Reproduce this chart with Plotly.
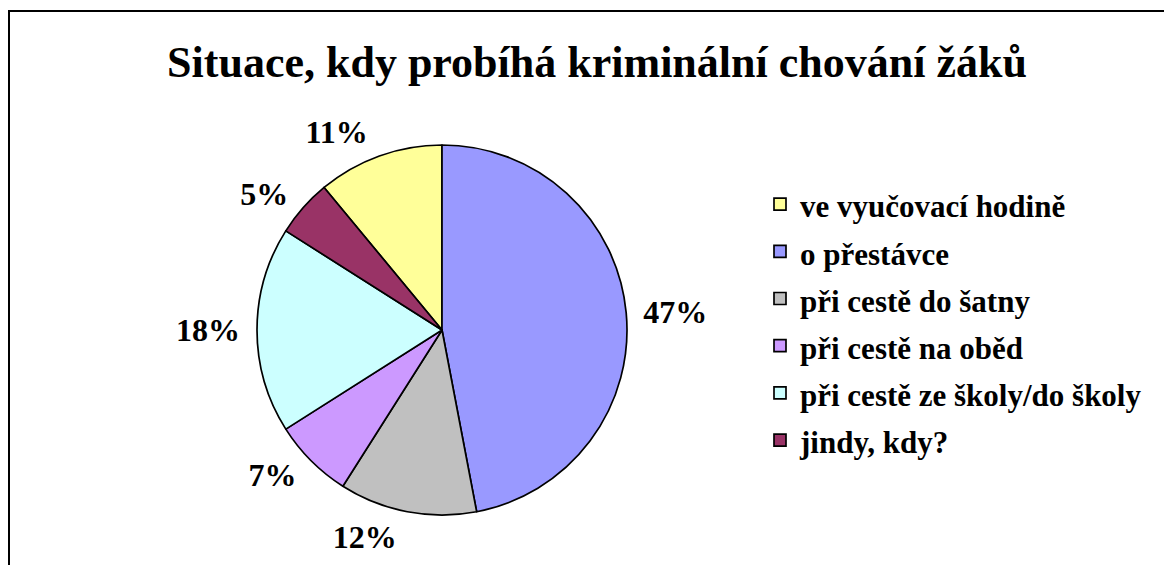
import plotly.graph_objects as go

categories = [
    "ve vyučovací hodině",
    "o přestávce",
    "při cestě do šatny",
    "při cestě na oběd",
    "při cestě ze školy/do školy",
    "jindy, kdy?",
]
shares = [11, 47, 12, 7, 18, 5]
colors = ["#FFFF99", "#9999FF", "#C0C0C0", "#CC99FF", "#CCFFFF", "#993366"]
title_text = "Situace, kdy probíhá kriminální chování žáků"

W, H = 1172, 565
OFF = 8  # page body margin
FONT = "Liberation Serif, Times New Roman, serif"

# pie geometry (page pixels, converted to figure pixels)
cx, cy, r = 442 - OFF, 330 - OFF, 185
label_r = r + 8
start_rotation = -shares[0] / sum(shares) * 360


def dom(rad):
    return dict(
        x=[(cx - rad) / W, (cx + rad) / W],
        y=[1 - (cy + rad) / H, 1 - (cy - rad) / H],
    )


legend_labels = [
    "<span style='font-size:31px'>" + c + "</span>" for c in categories
]

# invisible, slightly larger pie that only carries the outside percentage labels
label_pie = go.Pie(
    labels=legend_labels,
    values=shares,
    sort=False,
    direction="clockwise",
    rotation=start_rotation,
    marker=dict(colors=["rgba(0,0,0,0)"] * len(shares), line=dict(width=0)),
    texttemplate="%{percent:.0%}",
    textposition="outside",
    outsidetextfont=dict(family=FONT, size=32, color="black", weight="bold"),
    domain=dom(label_r),
    showlegend=False,
    hoverinfo="skip",
)

main_pie = go.Pie(
    labels=legend_labels,
    values=shares,
    sort=False,
    direction="clockwise",
    rotation=start_rotation,
    marker=dict(colors=colors, line=dict(color="black", width=1.7)),
    textinfo="none",
    domain=dom(r),
    hovertext=categories,
    hoverinfo="text+percent",
)

fig = go.Figure([label_pie, main_pie])

fig.update_layout(
    width=W,
    height=H,
    autosize=False,
    margin=dict(l=0, r=0, t=0, b=0),
    paper_bgcolor="white",
    plot_bgcolor="white",
    title=dict(
        text="<b>" + title_text + "</b>",
        font=dict(family=FONT, size=44, color="black"),
        x=(597 - OFF) / W,
        xanchor="center",
        y=1 - (61.5 - OFF) / H,
        yanchor="middle",
        automargin=False,
    ),
    legend=dict(
        x=752 / W,
        xanchor="left",
        y=1 - 167.5 / H,
        yanchor="top",
        font=dict(family=FONT, size=34, color="black", weight="bold"),
        bgcolor="rgba(0,0,0,0)",
        borderwidth=0,
    ),
    shapes=[
        dict(
            type="rect",
            xref="paper",
            yref="paper",
            x0=1 / W,
            x1=1.05,
            y0=-0.1,
            y1=1 - 3 / H,
            line=dict(color="black", width=2),
            fillcolor="rgba(0,0,0,0)",
            layer="below",
        )
    ],
)

fig.write_html("out.html")
